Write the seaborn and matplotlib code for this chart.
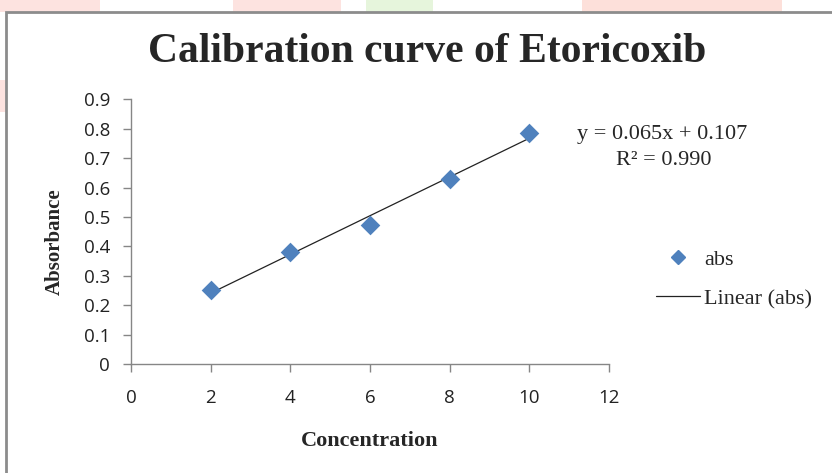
import numpy as np
import pandas as pd
import matplotlib
matplotlib.use("Agg")
from matplotlib import pyplot as plt
from matplotlib.lines import Line2D
from matplotlib.patches import Rectangle
import seaborn as sns

# calibration data
concentration = [2, 4, 6, 8, 10]
absorbance = [0.252, 0.381, 0.473, 0.628, 0.787]
x_ticks = [0, 2, 4, 6, 8, 10, 12]
y_ticks = [0, 0.1, 0.2, 0.3, 0.4, 0.5, 0.6, 0.7, 0.8, 0.9]
equation = "y = 0.065x + 0.107"
r_squared = "R\u00b2 = 0.990"

df = pd.DataFrame({"conc": concentration, "abs": absorbance})

sns.set_style("white")
serif = "Liberation Serif"
tick_font = "Open Sans"

fig = plt.figure(figsize=(8.32, 4.73), dpi=100)

# faint watermark bits above the chart frame
for x0, w, c in [(0.0, 0.12, "#fde3e0"), (0.28, 0.13, "#fde3e0"),
                 (0.44, 0.08, "#e6f5dc"), (0.70, 0.24, "#fde0da")]:
    fig.patches.append(Rectangle((x0, 1 - 12 / 473), w, 12 / 473,
                                 transform=fig.transFigure, color=c, lw=0, zorder=0))
fig.patches.append(Rectangle((0, 1 - 112 / 473), 6 / 832, 32 / 473,
                             transform=fig.transFigure, color="#fde3e0", lw=0, zorder=0))
# chart frame
fig.patches.append(Rectangle((6 / 832, -0.05), 1.0, 1 - 12 / 473 + 0.05,
                             transform=fig.transFigure, fill=False,
                             ec="#8c8c8c", lw=2, zorder=1))

ax = fig.add_axes([131 / 832, 1 - 364 / 473, 478 / 832, 264.7 / 473])
ax.set_facecolor("none")

sns.regplot(data=df, x="conc", y="abs", ax=ax, scatter=False, ci=None,
            truncate=True, line_kws={"color": "#222222", "lw": 0.9})
sns.scatterplot(data=df, x="conc", y="abs", ax=ax, marker="D", s=100,
                color="#4f81bd", edgecolor="#4f81bd", linewidth=0, zorder=3)

ax.set_xlim(0, 12)
ax.set_ylim(0, 0.9)
ax.set_xticks(x_ticks)
ax.set_yticks(y_ticks)
ax.set_xticklabels([str(t) for t in x_ticks], fontname=tick_font, fontsize=13.5)
ax.set_yticklabels([f"{t:g}" for t in y_ticks], fontname=tick_font, fontsize=13.5)
for s in ["top", "right"]:
    ax.spines[s].set_visible(False)
for s in ["left", "bottom"]:
    ax.spines[s].set_color("#868686")
    ax.spines[s].set_linewidth(1)
ax.tick_params(axis="both", direction="out", length=6, width=1, color="#868686",
               pad=9, labelcolor="#222222", bottom=True, left=True)
ax.tick_params(axis="x", pad=12)

ax.set_xlabel("Concentration", fontname=serif, fontweight="bold", fontsize=16,
              labelpad=17)
ax.set_ylabel("Absorbance", fontname=serif, fontweight="bold", fontsize=15,
              va="center")
ax.yaxis.set_label_coords(-0.159, 0.461)

fig.text(427 / 832, 1 - 52 / 473, "Calibration curve of Etoricoxib",
         fontname=serif, fontweight="bold", fontsize=30, ha="center", va="center")
fig.text(662 / 832, 1 - 135 / 473, equation, fontname=serif, fontsize=16,
         ha="center", va="center")
fig.text(664 / 832, 1 - 160 / 473, r_squared, fontname=serif, fontsize=16,
         ha="center", va="center")

handles = [Line2D([], [], ls="none", marker="D", color="#4f81bd", markersize=7.5),
           Line2D([], [], color="#222222", lw=0.9)]
fig.legend(handles, ["abs", "Linear (abs)"], loc="center left",
           bbox_to_anchor=(656 / 832, 1 - 279 / 473), frameon=False,
           prop={"family": serif, "size": 16}, handlelength=2.0,
           handletextpad=0.15, labelspacing=0.85, borderpad=0, borderaxespad=0)

fig.savefig("out.png", dpi=100)
